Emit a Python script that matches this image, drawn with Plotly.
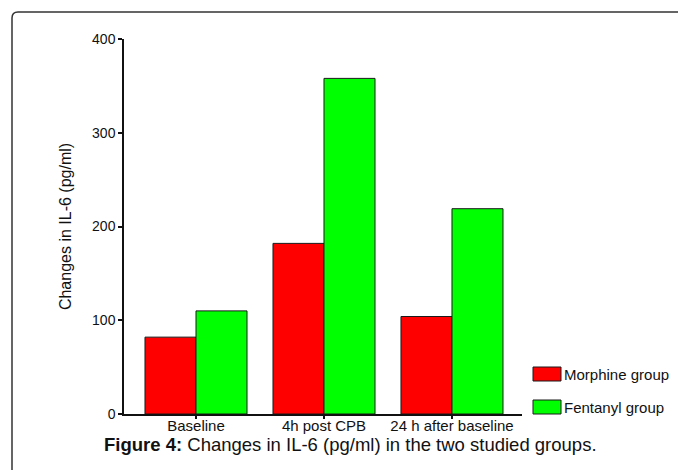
import plotly.graph_objects as go

categories = ["Baseline", "4h post CPB", "24 h after baseline"]
series_names = ["Morphine group", "Fentanyl group"]
morphine = [82, 182, 104]
fentanyl = [110, 358, 219]
y_ticks = [0, 100, 200, 300, 400]
colors = ["#FF0000", "#00FF00"]

W, H = 678, 470
L, R, T, B = 124, 156, 39, 56
pw, ph = W - L - R, H - T - B

def px(x):
    return (x - L) / pw

def py(y):
    return (H - B - y) / ph

fig = go.Figure()
for name, vals, col in zip(series_names, [morphine, fentanyl], colors):
    fig.add_trace(go.Bar(
        x=categories, y=vals, name=name,
        marker=dict(color=col, line=dict(color="#1a1a1a", width=1)),
        showlegend=False, hoverinfo="skip",
    ))

font = "Liberation Sans, Arial, sans-serif"
shapes = []
annotations = []

# custom legend
leg_rows = [367, 400]
for name, col, ytop in zip(series_names, colors, leg_rows):
    shapes.append(dict(type="rect", xref="paper", yref="paper",
                       x0=px(533), x1=px(561), y0=py(ytop + 14), y1=py(ytop),
                       fillcolor=col, line=dict(color="#1a1a1a", width=1)))
    annotations.append(dict(text=name, xref="paper", yref="paper",
                            x=px(562), y=py(ytop + 7), xanchor="left", yanchor="middle",
                            showarrow=False, font=dict(size=15, color="#111", family=font)))

# rounded border frame
x0, yt, r = px(12), py(12), 6
shapes.append(dict(type="path", xref="paper", yref="paper",
                   path=(f"M {x0},{py(480)} L {x0},{py(12 + r)} "
                         f"Q {x0},{yt} {px(12 + r)},{yt} L {px(690)},{yt}"),
                   line=dict(color="#333", width=1.5)))

# caption
annotations.append(dict(
    text="<b>Figure 4:</b> Changes in IL-6 (pg/ml) in the two studied groups.",
    xref="paper", yref="paper", x=px(350), y=py(444), xanchor="center", yanchor="middle",
    showarrow=False, font=dict(size=18.5, color="#111", family=font)))

fig.update_layout(
    width=W, height=H,
    margin=dict(l=L, r=R, t=T, b=B),
    paper_bgcolor="white", plot_bgcolor="white",
    barmode="group", bargap=0.203, bargroupgap=0,
    font=dict(family=font, size=14, color="#111"),
    shapes=shapes, annotations=annotations,
    xaxis=dict(range=[-0.5625, 2.547], showline=True, linecolor="#111", linewidth=1.5,
               ticks="outside", ticklen=3, tickwidth=2, tickcolor="#111",
               showgrid=False, zeroline=False, tickfont=dict(size=15),
               ticklabelstandoff=-6),
    yaxis=dict(range=[0, 400], tickvals=y_ticks, showline=True, linecolor="#111",
               linewidth=1.5, ticks="outside", ticklen=4, tickwidth=2, tickcolor="#111",
               showgrid=False, zeroline=False, tickfont=dict(size=14),
               title=dict(text="Changes in IL-6 (pg/ml)", font=dict(size=16), standoff=16)),
)

fig.write_html("out.html", config={"displayModeBar": False},
               post_script="document.body.style.margin='0';")
